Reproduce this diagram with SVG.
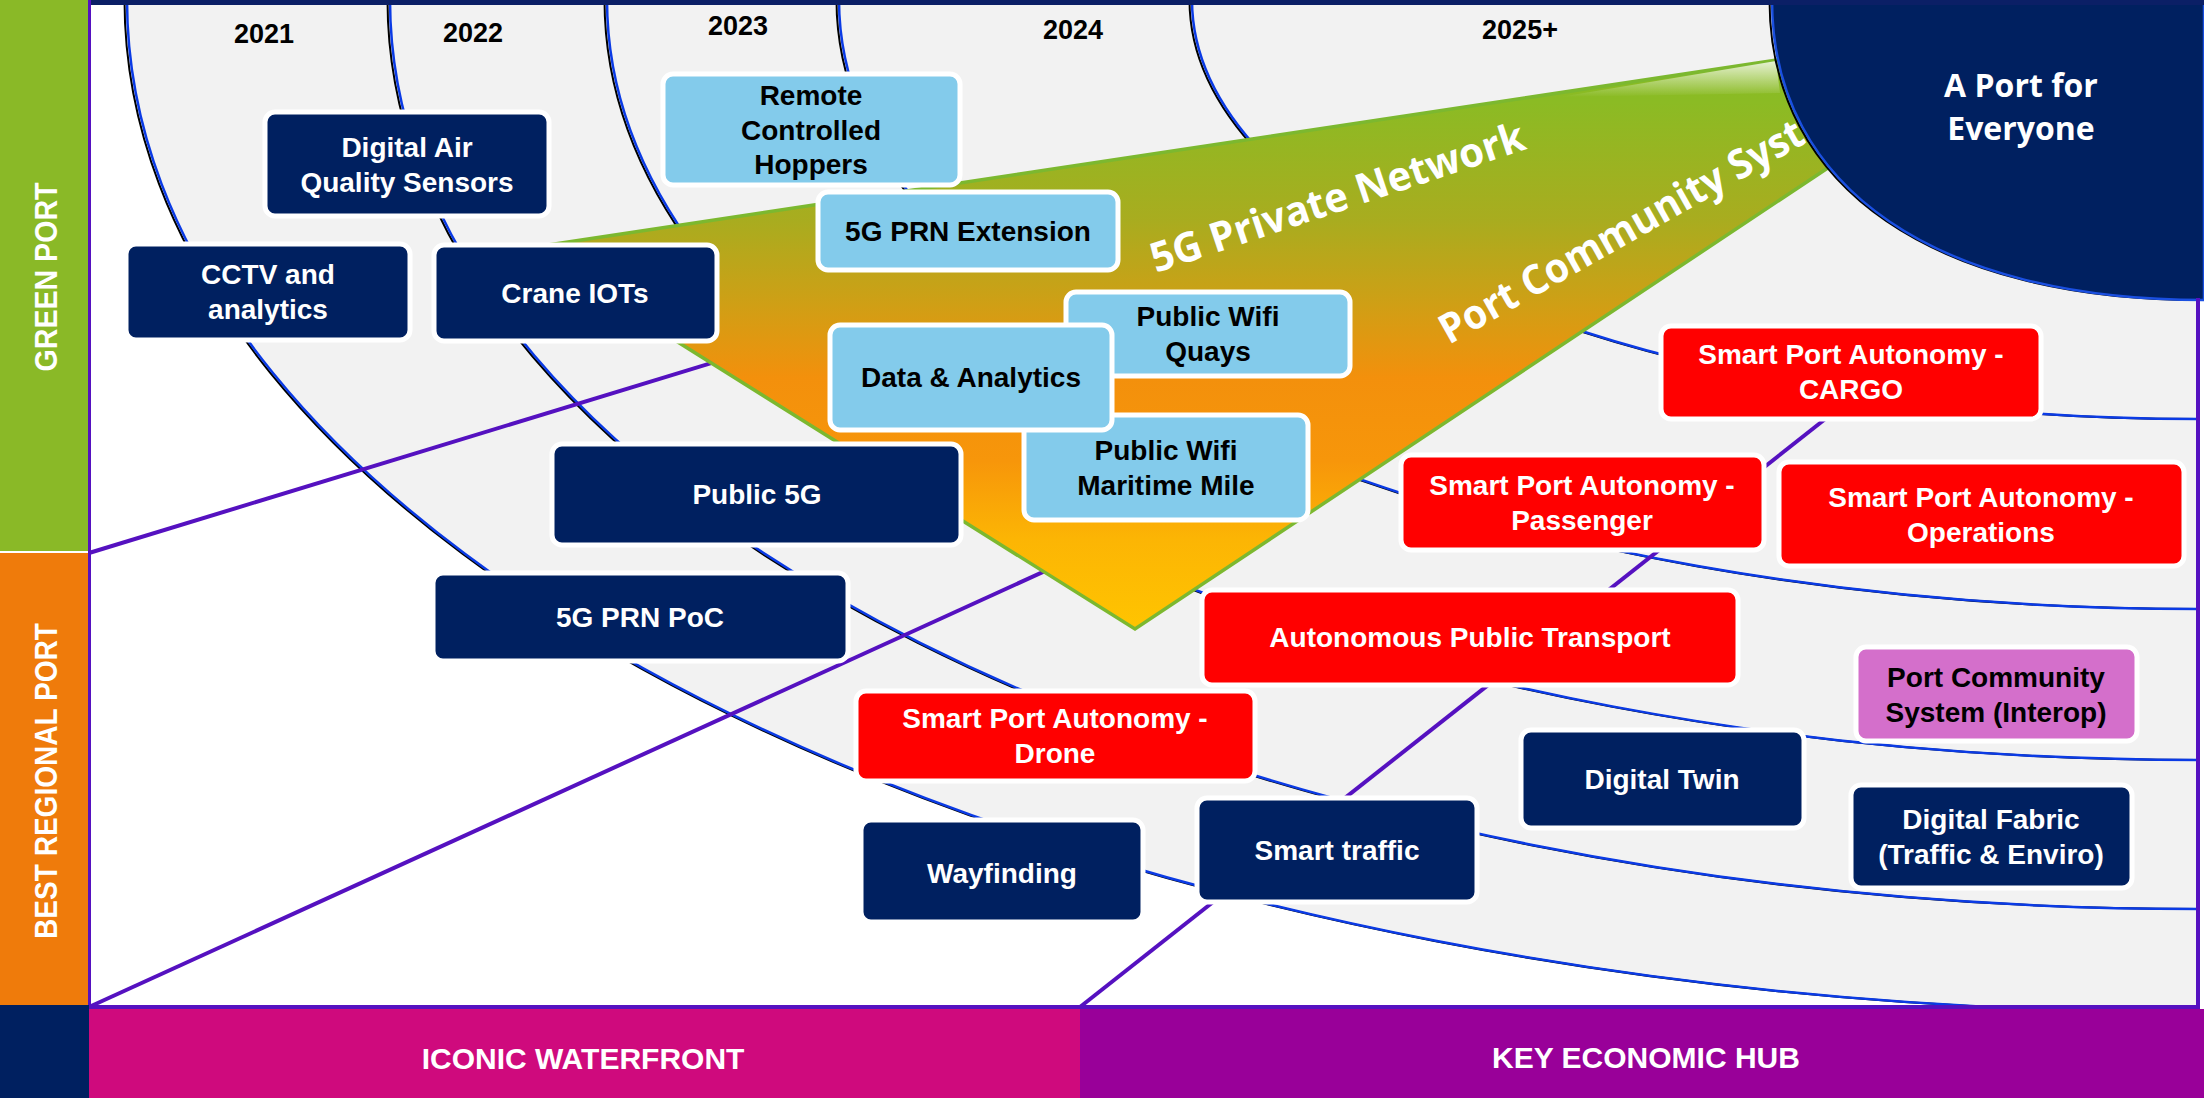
<svg xmlns="http://www.w3.org/2000/svg" width="2204" height="1098" viewBox="0 0 2204 1098">
<defs>
<style>
.nav{fill:#002060;stroke:#fff;stroke-width:5}
.lb{fill:#83CBEB;stroke:#fff;stroke-width:5}
.rd{fill:#FF0000;stroke:#fff;stroke-width:5}
.pk{fill:#D46FCB;stroke:#fff;stroke-width:5}
.tw{font-family:"Liberation Sans",Arial,sans-serif;font-weight:bold;font-size:28px;fill:#fff;text-anchor:middle}
.tb{font-family:"Liberation Sans",Arial,sans-serif;font-weight:bold;font-size:28px;fill:#000;text-anchor:middle}
.yr{font-family:"Liberation Sans",Arial,sans-serif;font-weight:bold;font-size:27px;fill:#000;text-anchor:middle}
.side{font-family:"Liberation Sans",Arial,sans-serif;font-weight:bold;font-size:31px;fill:#fff;text-anchor:middle}
.bot{font-family:"Liberation Sans",Arial,sans-serif;font-weight:bold;font-size:30px;fill:#fff;text-anchor:middle}
.big{font-family:"Open Sans","Liberation Sans",sans-serif;font-weight:bold;font-size:41px;fill:#fff}
.circ{font-family:"Open Sans","Liberation Sans",sans-serif;font-weight:bold;font-size:32px;fill:#fff;text-anchor:middle}
.arc{fill:none;stroke:#0B3BE5;stroke-width:2.5}
.arcs{fill:none;stroke:#000;stroke-width:2}
.pl{fill:none;stroke:#5511C0;stroke-width:4}
</style>
<linearGradient id="tri" gradientUnits="userSpaceOnUse" x1="0" y1="30" x2="0" y2="629">
<stop offset="0" stop-color="#86BC25"/>
<stop offset="0.12" stop-color="#8BBB24"/>
<stop offset="0.32" stop-color="#A9AC1F"/>
<stop offset="0.45" stop-color="#CDA016"/>
<stop offset="0.58" stop-color="#F3900C"/>
<stop offset="0.72" stop-color="#F7960A"/>
<stop offset="0.85" stop-color="#FCB504"/>
<stop offset="1" stop-color="#FFC400"/>
</linearGradient>
<linearGradient id="hl" gradientUnits="userSpaceOnUse" x1="0" y1="61" x2="0" y2="97">
<stop offset="0" stop-color="#fff" stop-opacity="0.8"/>
<stop offset="1" stop-color="#fff" stop-opacity="0"/>
</linearGradient>
</defs>

<rect x="0" y="0" width="2204" height="1098" fill="#fff"/>
<path d="M 127 0 A 2073 1012 0 0 0 2200 1012 L 2200 0 Z" fill="#F2F2F2"/>

<g id="connectors">
<g transform="translate(-2.5,0)">
<path class="arcs" d="M 127 0 A 2073 1012 0 0 0 2200 1012"/>
<path class="arcs" d="M 390 0 A 1810 909 0 0 0 2200 909"/>
<path class="arcs" d="M 607 0 A 1593 760 0 0 0 2200 760"/>
<path class="arcs" d="M 839 0 A 1361 609 0 0 0 2200 609"/>
<path class="arcs" d="M 1192 0 A 1008 419 0 0 0 2200 419"/>
</g>
<path class="arc" d="M 127 0 A 2073 1012 0 0 0 2200 1012"/>
<path class="arc" d="M 390 0 A 1810 909 0 0 0 2200 909"/>
<path class="arc" d="M 607 0 A 1593 760 0 0 0 2200 760"/>
<path class="arc" d="M 839 0 A 1361 609 0 0 0 2200 609"/>
<path class="arc" d="M 1192 0 A 1008 419 0 0 0 2200 419"/>
<path class="pl" d="M 89 553 L 800 336"/>
<path class="pl" d="M 89 1007 L 1100 546"/>
<path class="pl" d="M 1080 1007 L 1900 360"/>
</g>

<g id="network-wedge">
<polygon points="528,248 1990,28 1990,60 1135,629" fill="url(#tri)" stroke="#7CB82F" stroke-width="3.5" stroke-linejoin="miter"/>
<polygon points="1560,97 1776,61 1780,93" fill="url(#hl)"/>
<text class="big" transform="translate(1156,273) rotate(-18.5)" textLength="392" lengthAdjust="spacingAndGlyphs">5G Private Network</text>
<text class="big" transform="translate(1449,345) rotate(-29.5)" textLength="412" lengthAdjust="spacingAndGlyphs">Port Community Syst</text>
</g>

<g id="port-for-everyone">
<path d="M 1772 0 C 1772 190 1940 300 2204 300" fill="none" stroke="#000" stroke-width="2" transform="translate(-2.5,0)"/>
<path d="M 1772 0 C 1772 190 1940 300 2204 300 L 2204 0 Z" fill="#002060" stroke="#1A4FE0" stroke-width="2.5"/>
<text class="circ" x="2021" y="97">A Port for</text>
<text class="circ" x="2021" y="140">Everyone</text>
</g>

<g id="frame">
<rect x="88" y="0" width="2116" height="5" fill="#0B1F66"/>
<rect x="88" y="0" width="3" height="1009" fill="#5511C0"/>
<rect x="88" y="1005" width="2112" height="4" fill="#5511C0"/>
<rect x="2196" y="298" width="4" height="711" fill="#5511C0"/>
</g>

<g id="green-port">
<rect x="0" y="0" width="88" height="551" fill="#8AB927"/>
<text class="side" transform="translate(57,277) rotate(-90)" textLength="189" lengthAdjust="spacingAndGlyphs">GREEN PORT</text>
</g>
<g id="best-regional-port">
<rect x="0" y="553" width="88" height="452" fill="#EF7B0B"/>
<text class="side" transform="translate(57,781) rotate(-90)" textLength="316" lengthAdjust="spacingAndGlyphs">BEST REGIONAL PORT</text>
</g>
<rect x="0" y="1005" width="89" height="93" fill="#002060"/>
<g id="iconic-waterfront">
<rect x="89" y="1009" width="991" height="89" fill="#CF0A7D"/>
<text class="bot" x="583" y="1069">ICONIC WATERFRONT</text>
</g>
<g id="key-economic-hub">
<rect x="1080" y="1009" width="1124" height="89" fill="#990099"/>
<text class="bot" x="1646" y="1068">KEY ECONOMIC HUB</text>
</g>

<g id="years">
<text class="yr" x="264" y="43">2021</text>
<text class="yr" x="473" y="42">2022</text>
<text class="yr" x="738" y="35">2023</text>
<text class="yr" x="1073" y="39">2024</text>
<text class="yr" x="1520" y="39">2025+</text>
</g>

<g id="digital-air-quality-sensors">
<rect class="nav" x="265" y="112" width="284" height="104" rx="10"/>
<text class="tw" x="407" y="157">Digital Air</text>
<text class="tw" x="407" y="192">Quality Sensors</text>
</g>
<g id="cctv-analytics">
<rect class="nav" x="126" y="244" width="284" height="96" rx="10"/>
<text class="tw" x="268" y="284">CCTV and</text>
<text class="tw" x="268" y="319">analytics</text>
</g>
<g id="crane-iots">
<rect class="nav" x="434" y="245" width="283" height="96" rx="10"/>
<text class="tw" x="575" y="303">Crane IOTs</text>
</g>
<g id="remote-controlled-hoppers">
<rect class="lb" x="663" y="74" width="297" height="111" rx="10"/>
<text class="tb" x="811" y="105">Remote</text>
<text class="tb" x="811" y="140">Controlled</text>
<text class="tb" x="811" y="174">Hoppers</text>
</g>
<g id="5g-prn-extension">
<rect class="lb" x="818" y="192" width="300" height="78" rx="10"/>
<text class="tb" x="968" y="241">5G PRN Extension</text>
</g>
<g id="public-wifi-quays">
<rect class="lb" x="1066" y="292" width="284" height="84" rx="10"/>
<text class="tb" x="1208" y="326">Public Wifi</text>
<text class="tb" x="1208" y="361">Quays</text>
</g>
<g id="public-wifi-maritime-mile">
<rect class="lb" x="1024" y="415" width="284" height="105" rx="10"/>
<text class="tb" x="1166" y="460">Public Wifi</text>
<text class="tb" x="1166" y="495">Maritime Mile</text>
</g>
<g id="data-analytics">
<rect class="lb" x="830" y="325" width="282" height="105" rx="10"/>
<text class="tb" x="971" y="387">Data &amp; Analytics</text>
</g>
<g id="public-5g">
<rect class="nav" x="552" y="444" width="409" height="101" rx="10"/>
<text class="tw" x="757" y="504">Public 5G</text>
</g>
<g id="5g-prn-poc">
<rect class="nav" x="433" y="573" width="415" height="88" rx="10"/>
<text class="tw" x="640" y="627">5G PRN PoC</text>
</g>
<g id="spa-drone">
<rect class="rd" x="856" y="691" width="399" height="90" rx="10"/>
<text class="tw" x="1055" y="728">Smart Port Autonomy -</text>
<text class="tw" x="1055" y="763">Drone</text>
</g>
<g id="autonomous-public-transport">
<rect class="rd" x="1202" y="590" width="536" height="95" rx="10"/>
<text class="tw" x="1470" y="647">Autonomous Public Transport</text>
</g>
<g id="spa-passenger">
<rect class="rd" x="1401" y="455" width="363" height="95" rx="10"/>
<text class="tw" x="1582" y="495">Smart Port Autonomy -</text>
<text class="tw" x="1582" y="530">Passenger</text>
</g>
<g id="spa-operations">
<rect class="rd" x="1779" y="462" width="405" height="104" rx="10"/>
<text class="tw" x="1981" y="507">Smart Port Autonomy -</text>
<text class="tw" x="1981" y="542">Operations</text>
</g>
<g id="spa-cargo">
<rect class="rd" x="1661" y="326" width="380" height="93" rx="10"/>
<text class="tw" x="1851" y="364">Smart Port Autonomy -</text>
<text class="tw" x="1851" y="399">CARGO</text>
</g>
<g id="port-community-system">
<rect class="pk" x="1856" y="647" width="281" height="94" rx="10"/>
<text class="tb" x="1996" y="687">Port Community</text>
<text class="tb" x="1996" y="722">System (Interop)</text>
</g>
<g id="digital-twin">
<rect class="nav" x="1521" y="730" width="283" height="98" rx="10"/>
<text class="tw" x="1662" y="789">Digital Twin</text>
</g>
<g id="digital-fabric">
<rect class="nav" x="1851" y="785" width="281" height="103" rx="10"/>
<text class="tw" x="1991" y="829">Digital Fabric</text>
<text class="tw" x="1991" y="864">(Traffic &amp; Enviro)</text>
</g>
<g id="smart-traffic">
<rect class="nav" x="1197" y="798" width="280" height="104" rx="10"/>
<text class="tw" x="1337" y="860">Smart traffic</text>
</g>
<g id="wayfinding">
<rect class="nav" x="861" y="820" width="282" height="102" rx="10"/>
<text class="tw" x="1002" y="883">Wayfinding</text>
</g>
</svg>
